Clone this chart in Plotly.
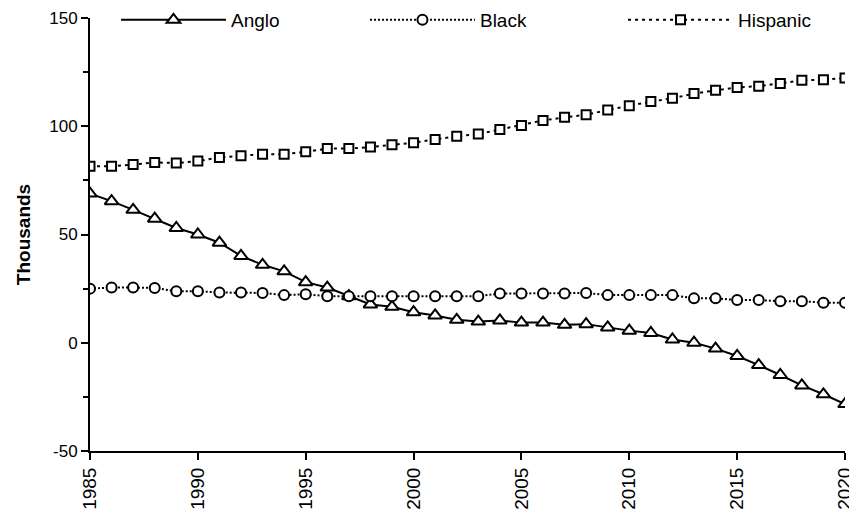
import plotly.graph_objects as go

years = list(range(1985, 2021))

anglo = [68.9, 65.4, 61.4, 57.3, 53.0, 50.0, 46.2, 40.1, 36.0, 33.0,
         28.0, 25.5, 21.5, 17.7, 16.6, 14.1, 12.6, 10.6, 9.8, 10.3,
         9.3, 9.3, 8.3, 8.6, 7.1, 5.6, 4.5, 1.5, 0.0, -2.7,
         -6.1, -10.3, -14.9, -19.7, -23.8, -28.3]

black = [25.0, 25.5, 25.5, 25.3, 23.8, 23.8, 23.2, 23.2, 23.0, 22.0,
         22.4, 21.5, 21.5, 21.5, 21.5, 21.5, 21.5, 21.5, 21.5, 22.7,
         22.7, 22.7, 22.7, 23.0, 22.0, 22.0, 22.0, 22.0, 20.5, 20.5,
         19.7, 19.7, 19.2, 19.2, 18.5, 18.5]

hispanic = [81.5, 81.5, 82.3, 83.3, 83.0, 83.9, 85.6, 86.4, 87.1, 87.1,
            88.2, 89.7, 89.7, 90.4, 91.4, 92.4, 93.9, 95.4, 96.4, 98.5,
            100.4, 102.7, 104.1, 105.3, 107.5, 109.5, 111.4, 112.9, 115.1, 116.6,
            117.9, 118.5, 119.7, 121.2, 121.5, 122.3]

x_ticks = [1985, 1990, 1995, 2000, 2005, 2010, 2015, 2020]
x_ticktext = [str(v) for v in x_ticks]
y_ticks = [-50, 0, 50, 100, 150]
y_ticktext = ["-50", "0", "50", "100", "150"]

FONT = "Liberation Sans, Arial, sans-serif"

fig = go.Figure()
fig.add_trace(go.Scatter(
    x=years, y=anglo, name="Anglo", mode="lines+markers", legend="legend",
    line=dict(color="black", width=2),
    marker=dict(symbol="triangle-up", size=12, color="white",
                line=dict(color="black", width=2)),
))
fig.add_trace(go.Scatter(
    x=years, y=black, name="Black", mode="lines+markers", legend="legend2",
    line=dict(color="black", width=2, dash="2px,2px"),
    marker=dict(symbol="circle", size=10, color="white",
                line=dict(color="black", width=2)),
))
fig.add_trace(go.Scatter(
    x=years, y=hispanic, name="Hispanic", mode="lines+markers", legend="legend3",
    line=dict(color="black", width=2, dash="3px,4px"),
    marker=dict(symbol="square", size=9, color="white",
                line=dict(color="black", width=2)),
))

leg_common = dict(orientation="h", xanchor="left",
                  y=0.9954, yanchor="middle",
                  itemwidth=105, bgcolor="rgba(0,0,0,0)",
                  font=dict(family=FONT, size=19, color="black"))

# The page body adds an 8px offset, so the figure is sized 8px smaller.
fig.update_layout(
    width=849, height=523,
    margin=dict(l=82, r=12, t=10, b=80, autoexpand=False),
    paper_bgcolor="white", plot_bgcolor="white",
    font=dict(family=FONT, size=18, color="black"),
    showlegend=True,
    legend=dict(x=0.0344, **leg_common),
    legend2=dict(x=0.3642, **leg_common),
    legend3=dict(x=0.706, **leg_common),
    xaxis=dict(
        range=[1985, 2020], tickvals=x_ticks, ticktext=x_ticktext,
        tickangle=-90, ticks="outside", ticklen=7, tickwidth=2, tickcolor="black",
        showline=True, linecolor="black", linewidth=2,
        showgrid=False, zeroline=False, automargin=False,
        ticklabeloverflow="allow",
        tickfont=dict(family=FONT, size=19, color="black"),
    ),
    yaxis=dict(
        range=[-50, 150], tickvals=y_ticks, ticktext=y_ticktext,
        ticks="outside", ticklen=7, tickwidth=2, tickcolor="black",
        showline=True, linecolor="black", linewidth=2,
        showgrid=False, zeroline=False, automargin=False,
        ticklabeloverflow="allow",
        minor=dict(tickvals=[-25, 25, 75, 125], ticks="outside", ticklen=5,
                   tickwidth=2, tickcolor="black", showgrid=False),
        tickfont=dict(family=FONT, size=17, color="black"),
        title=dict(text="<b>Thousands</b>", standoff=14,
                   font=dict(family=FONT, size=19, color="black")),
    ),
)

fig.write_html("out.html")
